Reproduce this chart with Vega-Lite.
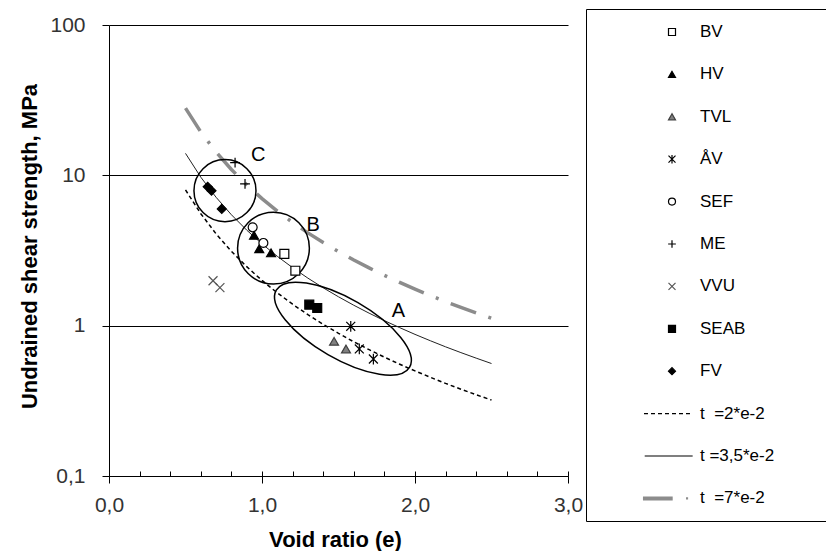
{
  "$schema": "https://vega.github.io/schema/vega-lite/v6.json",
  "width": 459,
  "height": 451,
  "autosize": {"type": "none"},
  "padding": {"left": 109, "top": 25, "right": 258, "bottom": 75},
  "background": "white",
  "config": {
    "font": "Liberation Sans",
    "view": {"stroke": null},
    "axis": {
      "labelFont": "Liberation Sans",
      "titleFont": "Liberation Sans",
      "domainColor": "#000",
      "tickColor": "#000",
      "labelColor": "#333",
      "titleColor": "#000",
      "labelFontSize": 21,
      "titleFontSize": 22,
      "titleFontWeight": "bold",
      "gridColor": "#000",
      "gridOpacity": 1,
      "domainWidth": 1,
      "tickWidth": 1
    },
    "legend": {
      "orient": "none",
      "legendX": 477,
      "legendY": -16,
      "strokeColor": "#000",
      "fillColor": "white",
      "padding": 14.5,
      "rowPadding": 24.4,
      "symbolSize": 49,
      "symbolStrokeWidth": 1.2,
      "symbolOpacity": 1,
      "symbolOffset": 63,
      "labelOffset": 19.5,
      "labelFont": "Liberation Sans",
      "labelFontSize": 17,
      "labelColor": "#000",
      "labelLimit": 300,
      "titleOrient": "right",
      "titleFontSize": 10,
      "titleColor": "transparent",
      "titleLimit": 3000,
      "titlePadding": 0
    }
  },
  "datasets": {
    "points": [
      {"series": "BV", "e": 1.146, "su": 3.0},
      {"series": "BV", "e": 1.218, "su": 2.32},
      {"series": "HV", "e": 0.948, "su": 3.99},
      {"series": "HV", "e": 0.982, "su": 3.25},
      {"series": "HV", "e": 1.059, "su": 3.05},
      {"series": "TVL", "e": 1.471, "su": 0.787},
      {"series": "TVL", "e": 1.549, "su": 0.70},
      {"series": "ÅV", "e": 1.580, "su": 0.99},
      {"series": "ÅV", "e": 1.636, "su": 0.70},
      {"series": "ÅV", "e": 1.728, "su": 0.60},
      {"series": "SEF", "e": 0.939, "su": 4.51},
      {"series": "SEF", "e": 1.009, "su": 3.55},
      {"series": "ME", "e": 0.824, "su": 12.15},
      {"series": "ME", "e": 0.889, "su": 8.77},
      {"series": "VVU", "e": 0.680, "su": 1.99},
      {"series": "VVU", "e": 0.725, "su": 1.79},
      {"series": "SEAB", "e": 1.309, "su": 1.38},
      {"series": "SEAB", "e": 1.361, "su": 1.31},
      {"series": "FV", "e": 0.645, "su": 8.4},
      {"series": "FV", "e": 0.670, "su": 7.9},
      {"series": "FV", "e": 0.737, "su": 5.98}
    ],
    "curves": [
      {"series": "t\u00a0 =2*e-2", "e": 0.5, "su": 8},
      {"series": "t\u00a0 =2*e-2", "e": 0.6, "su": 5.556},
      {"series": "t\u00a0 =2*e-2", "e": 0.7, "su": 4.082},
      {"series": "t\u00a0 =2*e-2", "e": 0.8, "su": 3.125},
      {"series": "t\u00a0 =2*e-2", "e": 0.9, "su": 2.469},
      {"series": "t\u00a0 =2*e-2", "e": 1.0, "su": 2.0},
      {"series": "t\u00a0 =2*e-2", "e": 1.1, "su": 1.653},
      {"series": "t\u00a0 =2*e-2", "e": 1.2, "su": 1.389},
      {"series": "t\u00a0 =2*e-2", "e": 1.3, "su": 1.183},
      {"series": "t\u00a0 =2*e-2", "e": 1.4, "su": 1.020},
      {"series": "t\u00a0 =2*e-2", "e": 1.5, "su": 0.889},
      {"series": "t\u00a0 =2*e-2", "e": 1.6, "su": 0.781},
      {"series": "t\u00a0 =2*e-2", "e": 1.7, "su": 0.692},
      {"series": "t\u00a0 =2*e-2", "e": 1.8, "su": 0.617},
      {"series": "t\u00a0 =2*e-2", "e": 1.9, "su": 0.554},
      {"series": "t\u00a0 =2*e-2", "e": 2.0, "su": 0.5},
      {"series": "t\u00a0 =2*e-2", "e": 2.1, "su": 0.454},
      {"series": "t\u00a0 =2*e-2", "e": 2.2, "su": 0.413},
      {"series": "t\u00a0 =2*e-2", "e": 2.3, "su": 0.378},
      {"series": "t\u00a0 =2*e-2", "e": 2.4, "su": 0.347},
      {"series": "t\u00a0 =2*e-2", "e": 2.5, "su": 0.32},
      {"series": "t =3,5*e-2", "e": 0.5, "su": 14},
      {"series": "t =3,5*e-2", "e": 0.6, "su": 9.722},
      {"series": "t =3,5*e-2", "e": 0.7, "su": 7.143},
      {"series": "t =3,5*e-2", "e": 0.8, "su": 5.469},
      {"series": "t =3,5*e-2", "e": 0.9, "su": 4.321},
      {"series": "t =3,5*e-2", "e": 1.0, "su": 3.5},
      {"series": "t =3,5*e-2", "e": 1.1, "su": 2.893},
      {"series": "t =3,5*e-2", "e": 1.2, "su": 2.431},
      {"series": "t =3,5*e-2", "e": 1.3, "su": 2.071},
      {"series": "t =3,5*e-2", "e": 1.4, "su": 1.786},
      {"series": "t =3,5*e-2", "e": 1.5, "su": 1.556},
      {"series": "t =3,5*e-2", "e": 1.6, "su": 1.367},
      {"series": "t =3,5*e-2", "e": 1.7, "su": 1.211},
      {"series": "t =3,5*e-2", "e": 1.8, "su": 1.080},
      {"series": "t =3,5*e-2", "e": 1.9, "su": 0.970},
      {"series": "t =3,5*e-2", "e": 2.0, "su": 0.875},
      {"series": "t =3,5*e-2", "e": 2.1, "su": 0.794},
      {"series": "t =3,5*e-2", "e": 2.2, "su": 0.723},
      {"series": "t =3,5*e-2", "e": 2.3, "su": 0.662},
      {"series": "t =3,5*e-2", "e": 2.4, "su": 0.608},
      {"series": "t =3,5*e-2", "e": 2.5, "su": 0.56},
      {"series": "t\u00a0 =7*e-2", "e": 0.5, "su": 28},
      {"series": "t\u00a0 =7*e-2", "e": 0.6, "su": 19.44},
      {"series": "t\u00a0 =7*e-2", "e": 0.7, "su": 14.29},
      {"series": "t\u00a0 =7*e-2", "e": 0.8, "su": 10.94},
      {"series": "t\u00a0 =7*e-2", "e": 0.9, "su": 8.642},
      {"series": "t\u00a0 =7*e-2", "e": 1.0, "su": 7},
      {"series": "t\u00a0 =7*e-2", "e": 1.1, "su": 5.785},
      {"series": "t\u00a0 =7*e-2", "e": 1.2, "su": 4.861},
      {"series": "t\u00a0 =7*e-2", "e": 1.3, "su": 4.142},
      {"series": "t\u00a0 =7*e-2", "e": 1.4, "su": 3.571},
      {"series": "t\u00a0 =7*e-2", "e": 1.5, "su": 3.111},
      {"series": "t\u00a0 =7*e-2", "e": 1.6, "su": 2.734},
      {"series": "t\u00a0 =7*e-2", "e": 1.7, "su": 2.422},
      {"series": "t\u00a0 =7*e-2", "e": 1.8, "su": 2.160},
      {"series": "t\u00a0 =7*e-2", "e": 1.9, "su": 1.939},
      {"series": "t\u00a0 =7*e-2", "e": 2.0, "su": 1.75},
      {"series": "t\u00a0 =7*e-2", "e": 2.1, "su": 1.587},
      {"series": "t\u00a0 =7*e-2", "e": 2.2, "su": 1.446},
      {"series": "t\u00a0 =7*e-2", "e": 2.3, "su": 1.323},
      {"series": "t\u00a0 =7*e-2", "e": 2.4, "su": 1.215},
      {"series": "t\u00a0 =7*e-2", "e": 2.5, "su": 1.12}
    ],
    "regions": [
      {"region": "A", "e": 1.529, "su": 0.955},
      {"region": "B", "e": 1.075, "su": 3.28},
      {"region": "C", "e": 0.758, "su": 7.91}
    ],
    "labels": [
      {"label": "A", "e": 1.891, "su": 1.245},
      {"label": "B", "e": 1.335, "su": 4.70},
      {"label": "C", "e": 0.976, "su": 13.7}
    ]
  },
  "layer": [
    {
      "data": {"name": "curves"},
      "transform": [{"filter": "datum.series === 't\u00a0 =2*e-2'"}],
      "mark": {"type": "line", "stroke": "#000", "strokeWidth": 1.5, "strokeDash": [4, 3]},
      "encoding": {
        "x": {"field": "e", "type": "quantitative", "scale": {"domain": [0, 3], "nice": false, "zero": false},
          "axis": {"orient": "bottom", "values": [0.2, 0.4, 0.6, 0.8, 1, 1.2, 1.4, 1.6, 1.8, 2, 2.2, 2.4, 2.6, 2.8, 3], "labels": false, "domain": false, "grid": false, "ticks": true, "tickSize": -5, "title": null}},
        "y": {"field": "su", "type": "quantitative"}
      }
    },
    {
      "data": {"name": "curves"},
      "transform": [{"filter": "datum.series === 't =3,5*e-2'"}],
      "mark": {"type": "line", "stroke": "#222", "strokeWidth": 1},
      "encoding": {
        "x": {"field": "e", "type": "quantitative", "axis": null},
        "y": {"field": "su", "type": "quantitative"}
      }
    },
    {
      "data": {"name": "curves"},
      "transform": [{"filter": "datum.series === 't\u00a0 =7*e-2'"}],
      "mark": {"type": "line", "stroke": "#8c8c8c", "strokeWidth": 3.5, "strokeDash": [27, 13, 3, 13]},
      "encoding": {
        "x": {"field": "e", "type": "quantitative", "axis": null},
        "y": {"field": "su", "type": "quantitative"}
      }
    },
    {
      "data": {"name": "regions"},
      "transform": [{"filter": "datum.region === 'A'"}],
      "mark": {"type": "point", "shape": "M-1,0A1,0.39,0,1,1,1,0A1,0.39,0,1,1,-1,0Z", "size": 23716, "angle": 30, "filled": false, "stroke": "#000", "strokeWidth": 1.5, "opacity": 1},
      "encoding": {
        "x": {"field": "e", "type": "quantitative", "axis": null},
        "y": {"field": "su", "type": "quantitative"}
      }
    },
    {
      "data": {"name": "regions"},
      "transform": [{"filter": "datum.region === 'B'"}],
      "mark": {"type": "point", "shape": "circle", "size": 5153, "filled": false, "stroke": "#000", "strokeWidth": 1.5, "opacity": 1},
      "encoding": {
        "x": {"field": "e", "type": "quantitative", "axis": null},
        "y": {"field": "su", "type": "quantitative"}
      }
    },
    {
      "data": {"name": "regions"},
      "transform": [{"filter": "datum.region === 'C'"}],
      "mark": {"type": "point", "shape": "circle", "size": 3848, "filled": false, "stroke": "#000", "strokeWidth": 1.5, "opacity": 1},
      "encoding": {
        "x": {"field": "e", "type": "quantitative", "axis": null},
        "y": {"field": "su", "type": "quantitative"}
      }
    },
    {
      "data": {"name": "points"},
      "mark": {"type": "point", "filled": true, "size": 80, "strokeWidth": 1.2, "opacity": 1},
      "encoding": {
        "x": {"field": "e", "type": "quantitative",
          "axis": {"orient": "bottom", "values": [0, 1, 2, 3], "labelExpr": "replace(format(datum.value, '.1f'), '.', ',')", "tickSize": 7, "labelPadding": 11, "labelFlush": false, "labelOverlap": false, "grid": false, "title": "Void ratio (e)", "titleX": 226, "titleY": 70, "titleAlign": "center", "titleBaseline": "alphabetic"}},
        "y": {"field": "su", "type": "quantitative",
          "scale": {"type": "log", "domain": [0.1, 100], "nice": false},
          "axis": {"values": [0.1, 1, 10, 100], "labelExpr": "replace(toString(datum.value), '.', ',')", "tickSize": 7, "labelPadding": 17, "labelFlush": false, "labelOverlap": false, "grid": true, "title": "Undrained shear strength, MPa", "titleX": -73, "titleY": 221, "titleAngle": 270, "titleAlign": "center", "titleBaseline": "alphabetic"}},
        "shape": {"field": "series", "type": "nominal",
          "scale": {"domain": ["BV", "HV", "TVL", "ÅV", "SEF", "ME", "VVU", "SEAB", "FV", "t\u00a0 =2*e-2", "t =3,5*e-2", "t\u00a0 =7*e-2"],
            "range": ["square", "triangle-up", "triangle-up", "M-1,-1L1,1M-1,1L1,-1M0,-1.2V1.2", "circle", "M-1.1,0H1.1M0,-1.1V1.1", "M-1,-1L1,1M-1,1L1,-1", "square", "diamond",
              "M-8,-0.2H-6.86V0.2H-8ZM-6,-0.2H-4.86V0.2H-6ZM-4,-0.2H-2.86V0.2H-4ZM-2,-0.2H-0.86V0.2H-2ZM0,-0.2H1.14V0.2H0ZM2,-0.2H3.14V0.2H2ZM4,-0.2H5.14V0.2H4Z",
              "M-7.8,-0.15H5.9V0.15H-7.8Z",
              "M-8.3,-0.57H0.2V0.57H-8.3ZM4,-0.3H4.6V0.3H4Z"]},
          "legend": {"title": "...................................................................................................."}},
        "fill": {"field": "series", "type": "nominal",
          "scale": {"domain": ["BV", "HV", "TVL", "ÅV", "SEF", "ME", "VVU", "SEAB", "FV", "t\u00a0 =2*e-2", "t =3,5*e-2", "t\u00a0 =7*e-2"],
            "range": ["white", "#000", "#808080", "transparent", "white", "transparent", "transparent", "#000", "#000", "#000", "#000", "#8c8c8c"]},
          "legend": {"title": "...................................................................................................."}},
        "stroke": {"field": "series", "type": "nominal",
          "scale": {"domain": ["BV", "HV", "TVL", "ÅV", "SEF", "ME", "VVU", "SEAB", "FV", "t\u00a0 =2*e-2", "t =3,5*e-2", "t\u00a0 =7*e-2"],
            "range": ["#000", "#000", "#404040", "#000", "#000", "#000", "#555", "#000", "#000", "transparent", "transparent", "transparent"]},
          "legend": {"title": "...................................................................................................."}}
      }
    },
    {
      "data": {"name": "labels"},
      "mark": {"type": "text", "fontSize": 20, "font": "Liberation Sans", "color": "#000", "align": "center", "baseline": "middle"},
      "encoding": {
        "x": {"field": "e", "type": "quantitative", "axis": null},
        "y": {"field": "su", "type": "quantitative"},
        "text": {"field": "label", "type": "nominal"}
      }
    }
  ],
  "resolve": {"axis": {"x": "independent"}}
}
